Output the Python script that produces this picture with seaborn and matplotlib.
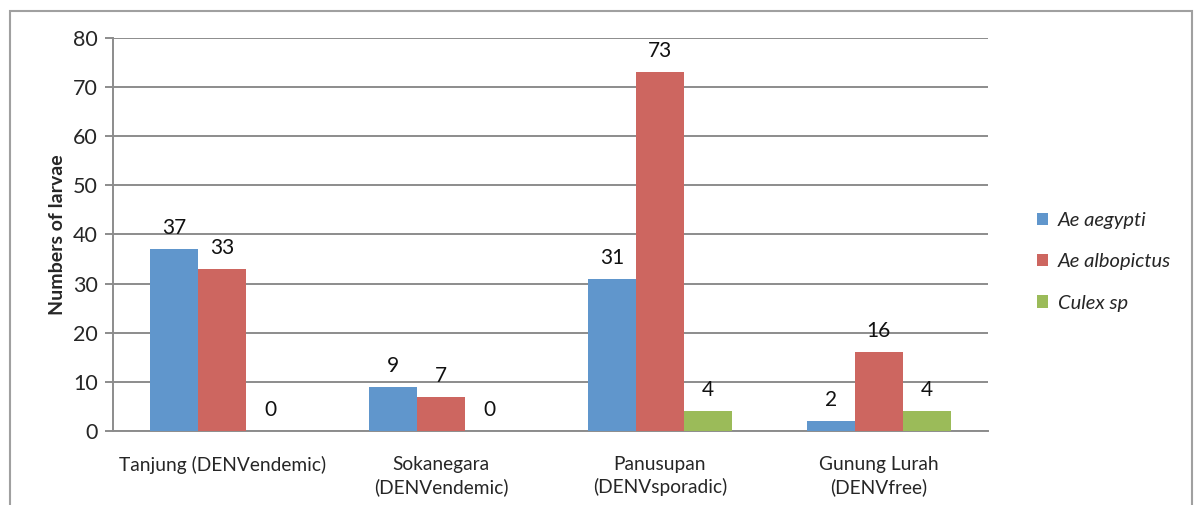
import pandas as pd
import seaborn as sns
import matplotlib.pyplot as plt
from matplotlib.patches import Rectangle

# === Data ===
sites = ['Tanjung (DENVendemic)', 'Sokanegara\n(DENVendemic)',
         'Panusupan\n(DENVsporadic)', 'Gunung Lurah\n(DENVfree)']
species = ['Ae aegypti', 'Ae albopictus', 'Culex sp']
ae_aegypti = [37, 9, 31, 2]
ae_albopictus = [33, 7, 73, 16]
culex_sp = [0, 0, 4, 4]

df = pd.DataFrame({
    'site': sites * 3,
    'species': [species[0]] * 4 + [species[1]] * 4 + [species[2]] * 4,
    'larvae': ae_aegypti + ae_albopictus + culex_sp,
})

palette = ['#6096CC', '#CD6660', '#9BBB59']

sns.set_style('white')
plt.rcParams['font.family'] = ['Lato', 'DejaVu Sans']

fig = plt.figure(figsize=(11.94, 5.05), dpi=100)
ax = fig.add_axes([0.0946, 0.1465, 0.733, 0.7785])

sns.barplot(data=df, x='site', y='larvae', hue='species', palette=palette,
            width=0.66, saturation=1, linewidth=0, ax=ax, zorder=3)

for c in ax.containers:
    ax.bar_label(c, fmt='%d', padding=8, fontsize=15, color='#111111')

ax.set_ylim(0, 80)
ax.set_yticks(range(0, 81, 10))
ax.set_xlim(-0.5, 3.5)
ax.yaxis.grid(True, color='#8c8c8c', linewidth=1.4, zorder=0)
ax.set_axisbelow(True)
for s in ['top', 'right']:
    ax.spines[s].set_visible(False)
ax.spines['left'].set_color('#8c8c8c')
ax.spines['left'].set_linewidth(1.4)
ax.spines['bottom'].set_color('#8c8c8c')
ax.spines['bottom'].set_linewidth(1.4)
ax.tick_params(axis='y', length=6, width=1.4, color='#8c8c8c', labelsize=15.5, left=True, pad=5)
ax.tick_params(axis='x', length=0, labelsize=13.8, pad=18)
for lbl in ax.get_xticklabels():
    lbl.set_linespacing(1.35)
ax.set_xlabel('')
ax.set_ylabel('Numbers of larvae', fontsize=14, fontweight='bold', labelpad=5)

leg = ax.legend(loc='center left', bbox_to_anchor=(1.035, 0.43), frameon=False,
                prop={'style': 'italic', 'size': 14.5}, handlelength=0.55,
                handleheight=0.55, labelspacing=1.2, handletextpad=0.5)

# outer chart border
fig.add_artist(Rectangle((0.008, -0.05), 0.99, 1.028, transform=fig.transFigure,
                         fill=False, edgecolor='#a0a0a0', linewidth=1.5))

fig.savefig('out.png', dpi=100)
